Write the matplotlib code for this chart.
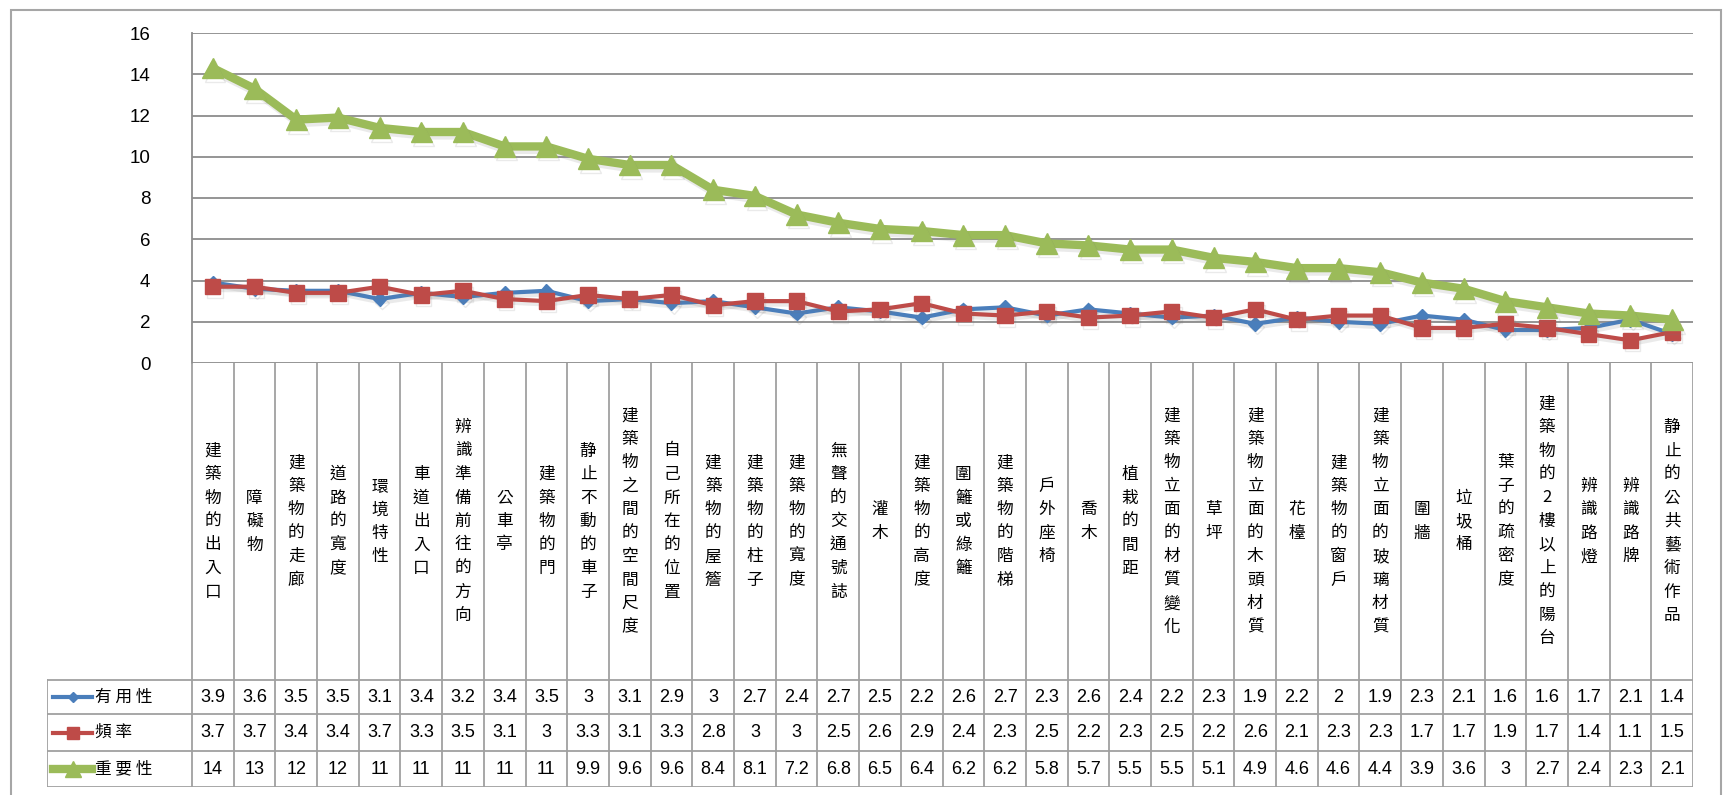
import matplotlib
matplotlib.use("Agg")
import matplotlib.pyplot as plt
import matplotlib.patheffects as pe
from matplotlib.lines import Line2D
from matplotlib.patches import Rectangle

categories = [
    "建築物的出入口", "障礙物", "建築物的走廊", "道路的寬度", "環境特性",
    "車道出入口", "辨識準備前往的方向", "公車亭", "建築物的門", "静止不動的車子",
    "建築物之間的空間尺度", "自己所在的位置", "建築物的屋簷", "建築物的柱子",
    "建築物的寬度", "無聲的交通號誌", "灌木", "建築物的高度", "圍籬或綠籬",
    "建築物的階梯", "戶外座椅", "喬木", "植栽的間距", "建築物立面的材質變化",
    "草坪", "建築物立面的木頭材質", "花檯", "建築物的窗戶",
    "建築物立面的玻璃材質", "圍牆", "垃圾桶", "葉子的疏密度",
    "建築物的2樓以上的陽台", "辨識路燈", "辨識路牌", "静止的公共藝術作品",
]
usefulness = [3.9, 3.6, 3.5, 3.5, 3.1, 3.4, 3.2, 3.4, 3.5, 3.0, 3.1, 2.9,
              3.0, 2.7, 2.4, 2.7, 2.5, 2.2, 2.6, 2.7, 2.3, 2.6, 2.4, 2.2,
              2.3, 1.9, 2.2, 2.0, 1.9, 2.3, 2.1, 1.6, 1.6, 1.7, 2.1, 1.4]
frequency = [3.7, 3.7, 3.4, 3.4, 3.7, 3.3, 3.5, 3.1, 3.0, 3.3, 3.1, 3.3,
             2.8, 3.0, 3.0, 2.5, 2.6, 2.9, 2.4, 2.3, 2.5, 2.2, 2.3, 2.5,
             2.2, 2.6, 2.1, 2.3, 2.3, 1.7, 1.7, 1.9, 1.7, 1.4, 1.1, 1.5]
importance = [14.3, 13.3, 11.8, 11.9, 11.4, 11.2, 11.2, 10.5, 10.5, 9.9,
              9.6, 9.6, 8.4, 8.1, 7.2, 6.8, 6.5, 6.4, 6.2, 6.2, 5.8, 5.7,
              5.5, 5.5, 5.1, 4.9, 4.6, 4.6, 4.4, 3.9, 3.6, 3.0, 2.7, 2.4,
              2.3, 2.1]
series_names = ["有用性", "頻率", "重要性"]
y_ticks = [0, 2, 4, 6, 8, 10, 12, 14, 16]

CJK = ["Noto Sans CJK TC", "DejaVu Sans"]
NUM = ["Liberation Sans", "DejaVu Sans"]
GRID = "#8c8c8c"

styles = [
    dict(color="#4a7ebb", marker="D", ms=7, lw=3.0),
    dict(color="#be4b48", marker="s", ms=11, lw=3.0),
    dict(color="#9bbb59", marker="^", ms=15, lw=6.0),
]
shadow = [pe.SimpleLineShadow(offset=(1.5, -2.5), shadow_color="#777777", alpha=0.15),
          pe.Normal()]


def cell_text(value):
    # general-format style: whole numbers above 10, one decimal below
    if value >= 10:
        return str(int(value + 0.5))
    return f"{value:g}"


W, H = 1729, 795
fig = plt.figure(figsize=(W / 100, H / 100), dpi=100)


def px_axes(x0, y0, x1, y1):
    return fig.add_axes([x0 / W, 1 - y1 / H, (x1 - x0) / W, (y1 - y0) / H])


# outer chart border (runs off the bottom edge)
fig.patches.append(Rectangle((11 / W, -0.05), 1710 / W, 1 - 10 / H + 0.05,
                             transform=fig.transFigure, fill=False,
                             edgecolor="#a6a6a6", lw=1.5))

left, right, top, zero = 192, 1693, 33, 363
n = len(categories)
colw = (right - left) / n

ax = px_axes(left, top, right, zero)
ax.set_xlim(-0.5, n - 0.5)
ax.set_ylim(0, 16)
ax.set_yticks(y_ticks)
ax.set_xticks([])
for t in y_ticks:
    ax.axhline(t, color=GRID, lw=1.3, zorder=0)
for side in ("top", "right", "bottom"):
    ax.spines[side].set_visible(False)
ax.spines["left"].set_color(GRID)
ax.spines["left"].set_linewidth(1.3)
ax.tick_params(axis="y", length=0, pad=30, labelsize=13.5)
for lab in ax.get_yticklabels():
    lab.set_fontfamily(NUM)

xs = list(range(n))
for vals, st in zip([usefulness, frequency, importance], styles):
    ax.plot(xs, vals, color=st["color"], lw=st["lw"], marker=st["marker"],
            ms=st["ms"], mec=st["color"], mfc=st["color"], clip_on=False,
            zorder=3, path_effects=shadow)

# category labels and data table below the plot
tab = px_axes(47, zero, right, 787)
tab.set_xlim(-0.5 - (left - 47) / colw, n - 0.5)
tab.set_ylim(787, zero)
tab.axis("off")

row_edges = [680, 714, 751, 787]
for i in range(n + 1):
    tab.plot([i - 0.5, i - 0.5], [zero, 787], color="#a0a0a0", lw=1.3)
x_tab_left = -0.5 - (left - 47) / colw
for y in row_edges:
    tab.plot([x_tab_left, n - 0.5], [y, y], color="#a0a0a0", lw=1.3)
tab.plot([x_tab_left, x_tab_left], [row_edges[0], 787], color="#a0a0a0", lw=1.3)

label_mid = (zero + row_edges[0]) / 2
for i, name in enumerate(categories):
    tab.text(i, label_mid, "\n".join(name), ha="center", va="center",
             fontsize=12, family=CJK, linespacing=1.5)

for r, (vals, st, name) in enumerate(zip([usefulness, frequency, importance],
                                         styles, series_names)):
    yc = (row_edges[r] + row_edges[r + 1]) / 2
    for i, v in enumerate(vals):
        tab.text(i, yc, cell_text(v), ha="center", va="center",
                 fontsize=13, family=NUM)
    # legend key: short line with marker
    x0 = x_tab_left + 6 / colw
    x1 = x_tab_left + 45 / colw
    key = Line2D([x0, x1], [yc, yc], color=st["color"], lw=st["lw"])
    tab.add_line(key)
    tab.plot([(x0 + x1) / 2], [yc], marker=st["marker"], color=st["color"],
             ms=st["ms"] * 0.8)
    tab.text(x_tab_left + 48 / colw, yc, " ".join(name), ha="left", va="center",
             fontsize=12, family=CJK)

fig.savefig("out.png", dpi=100)
